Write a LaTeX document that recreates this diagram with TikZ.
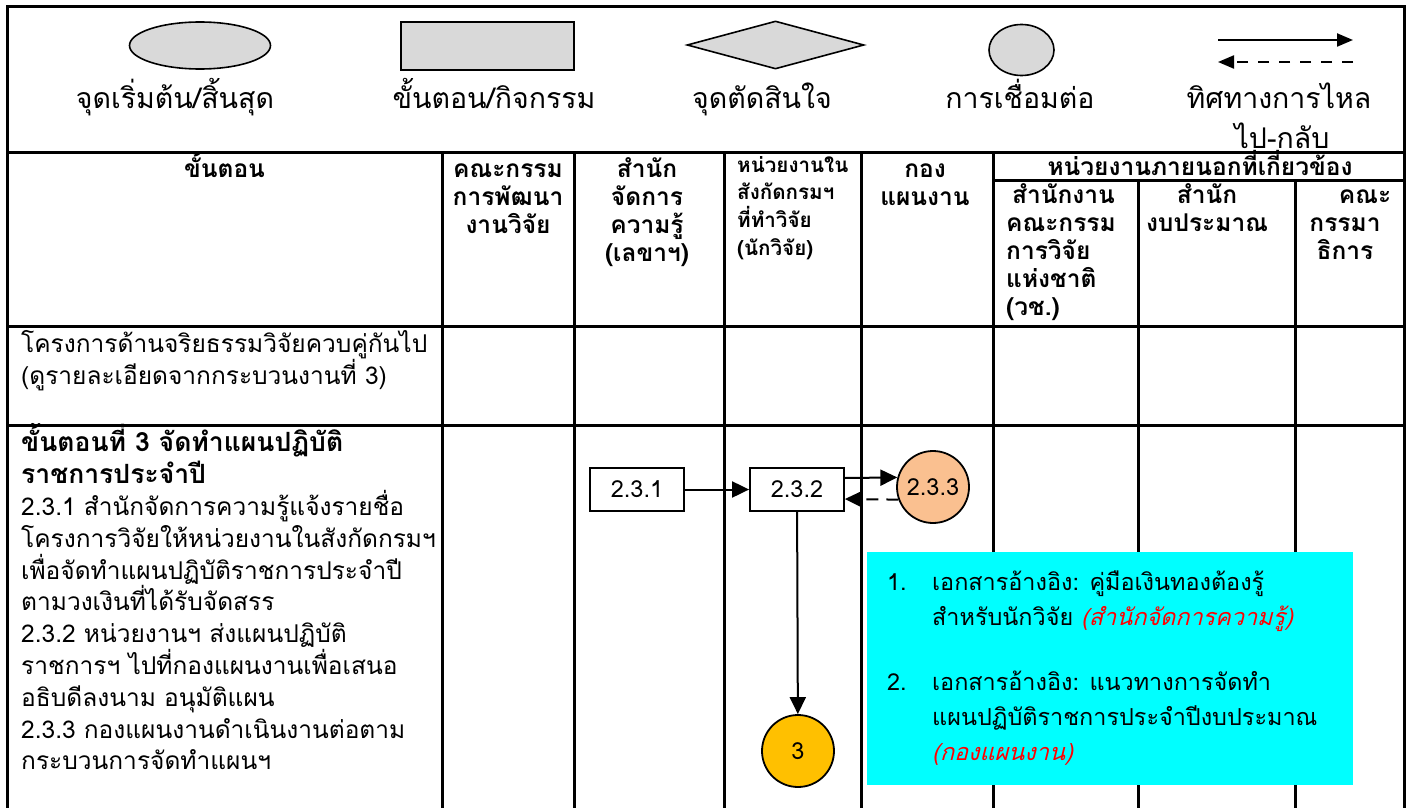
\documentclass[tikz,border=0pt]{standalone}
\usepackage{fontspec}
\setmainfont[Script=Thai]{Loma}
\newfontfamily\thaisl[Script=Thai,FakeSlant=0.25]{Loma}
\usetikzlibrary{arrows.meta,shapes.geometric}
\definecolor{lgray}{HTML}{D9D9D9}
\definecolor{peach}{HTML}{FAC090}
\definecolor{gold}{HTML}{FFC000}
\definecolor{aqua}{HTML}{00FFFF}
\newcommand{\tp}{\rule{0pt}{1.25em}}
\newcommand{\bl}[1]{{\fontsize{26.5}{31.8}\selectfont\bfseries #1}}
\tikzset{
  gridline/.style={line width=3pt},
  lgshape/.style={draw=black, line width=1.6pt, fill=lgray, inner sep=0pt},
  lgtext/.style={anchor=base, inner sep=0pt, font=\fontsize{28.5}{32}\selectfont},
  legarrow/.style={line width=2.2pt, -{Triangle[length=16pt,width=13pt]}},
  hd/.style={anchor=north, inner sep=0pt, align=center, font=\fontsize{24.5}{28}\selectfont\bfseries},
  hdl/.style={anchor=north west, inner sep=0pt, align=left, font=\fontsize{24.5}{28}\selectfont\bfseries},
  body/.style={anchor=north west, inner sep=0pt, align=left, font=\fontsize{24.5}{31.8}\selectfont},
  stepbox/.style={draw=black, line width=1.8pt, fill=white, minimum width=94pt, minimum height=43pt, inner sep=0pt, font=\fontsize{23.5}{26}\selectfont},
  conn/.style={circle, draw=black, line width=1.8pt, minimum size=72pt, inner sep=0pt, font=\fontsize{23.5}{26}\selectfont},
  flow/.style={line width=2pt, -{Triangle[length=17pt,width=16pt]}},
  note/.style={anchor=base west, inner sep=0pt, align=left, font=\fontsize{23.4}{35}\selectfont},
}
\begin{document}
\begin{tikzpicture}[x=1pt,y=-1pt]
\useasboundingbox (0,0) rectangle (1413,808);
\fill[white] (0,0) rectangle (1413,808);
% grid
\draw[gridline] (7,808) -- (7,7) -- (1404,7) -- (1404,808);
\draw[gridline] (7,152) -- (1404,152);
\draw[gridline] (7,326) -- (1404,326);
\draw[gridline] (7,425) -- (1404,425);
\draw[gridline] (993,180) -- (1404,180);
\foreach \x in {442,574,724,861,993} {\draw[gridline] (\x,152) -- (\x,808);}
\foreach \x in {1138,1295} {\draw[gridline] (\x,180) -- (\x,808);}
% legend
\node[ellipse, lgshape, minimum width=141pt, minimum height=47pt] (lgell) at (200,45.5) {};
\node[rectangle, lgshape, minimum width=173pt, minimum height=48pt] (lgrect) at (487.5,46) {};
\node[diamond, lgshape, minimum width=177pt, minimum height=48pt] (lgdia) at (775.5,45) {};
\node[ellipse, lgshape, minimum width=65pt, minimum height=51pt] (lgcirc) at (1021.5,50) {};
\coordinate (la1) at (1218,40); \coordinate (la2) at (1353,40);
\coordinate (lb1) at (1353,62); \coordinate (lb2) at (1218,62);
\draw[legarrow] (la1) -- (la2);
\draw[legarrow, dash pattern=on 11pt off 10pt] (lb1) -- (lb2);
\node[lgtext] (t1) at (175,108) {จุดเริ่มต้น/สิ้นสุด};
\node[lgtext] (t2) at (494,108) {ขั้นตอน/กิจกรรม};
\node[lgtext] (t3) at (762,108) {จุดตัดสินใจ};
\node[lgtext] (t4) at (1020,108) {การเชื่อมต่อ};
\node[lgtext] (t5) at (1279,108) {ทิศทางการไหล};
\node[lgtext] (t6) at (1282,148) {ไป-กลับ};
% header
\node[hd] (h0) at (224.5,146.4) {\tp ขั้นตอน};
\node[hd] (h1) at (508,146.4) {\tp คณะกรรม\\การพัฒนา\\งานวิจัย};
\node[hd] (h2) at (647,146.4) {\tp สำนัก\\จัดการ\\ความรู้\\(เลขาฯ)};
\node[hdl, font=\fontsize{20.6}{27.7}\selectfont\bfseries] (h3) at (737,146.25) {\tp หน่วยงานใน\\สังกัดกรมฯ\\ที่ทำวิจัย\\(นักวิจัย)};
\node[hd] (h4) at (925,146.4) {\tp กอง\\แผนงาน};
\node[hd] (h5) at (1200,144.4) {\tp หน่วยงานภายนอกที่เกี่ยวข้อง};
\node[hdl] (h6) at (1006,172.4) {\tp\hspace{6pt}สำนักงาน\\คณะกรรม\\การวิจัย\\แห่งชาติ\\(วช.)};
\node[hd] (h7) at (1207,172.4) {\tp สำนัก\\งบประมาณ};
\node[hd] (h8) at (1345,172.4) {\tp\hspace{40pt}คณะ\\กรรมา\\ธิการ};
% body
\node[body] (r1) at (21,321.4) {\tp โครงการด้านจริยธรรมวิจัยควบคู่กันไป\\(ดูรายละเอียดจากกระบวนงานที่ 3)};
\node[body] (r2) at (21,421) {\tp\bl{ขั้นตอนที่ 3 จัดทำแผนปฏิบัติ}\\\bl{ราชการประจำปี}\\2.3.1 สำนักจัดการความรู้แจ้งรายชื่อ\\โครงการวิจัยให้หน่วยงานในสังกัดกรมฯ\\เพื่อจัดทำแผนปฏิบัติราชการประจำปี\\ตามวงเงินที่ได้รับจัดสรร\\2.3.2 หน่วยงานฯ ส่งแผนปฏิบัติ\\ราชการฯ ไปที่กองแผนงานเพื่อเสนอ\\อธิบดีลงนาม อนุมัติแผน\\2.3.3 กองแผนงานดำเนินงานต่อตาม\\กระบวนการจัดทำแผนฯ};
% flow
\node[stepbox] (b1) at (637,489.5) {2.3.1};
\node[stepbox] (b2) at (797,489.5) {2.3.2};
\node[conn, fill=peach] (c233) at (933,487) {2.3.3};
\node[conn, fill=gold] (c3) at (798,751) {3};
\draw[flow] (b1) -- (b2);
\draw[flow] ([yshift=11.5pt]b2.east) -- (c233.165);
\draw[flow, dash pattern=on 12pt off 8pt] (c233.200) -- ([yshift=-9.5pt]b2.east);
\draw[flow] (b2) -- (c3);
% note
\node[fill=aqua, minimum width=486pt, minimum height=233pt, inner sep=0pt] (nbox) at (1110,668.5) {};
\node[note] (n1) at (887,590) {1.};
\node[note] (n1t) at (932,625) {เอกสารอ้างอิง: คู่มือเงินทองต้องรู้\\สำหรับนักวิจัย {\color{red}\thaisl (สำนักจัดการความรู้)}};
\node[note] (n2) at (887,690) {2.};
\node[note] (n2t) at (932,760) {เอกสารอ้างอิง: แนวทางการจัดทำ\\แผนปฏิบัติราชการประจำปีงบประมาณ\\{\color{red}\thaisl (กองแผนงาน)}};
\end{tikzpicture}
\end{document}
